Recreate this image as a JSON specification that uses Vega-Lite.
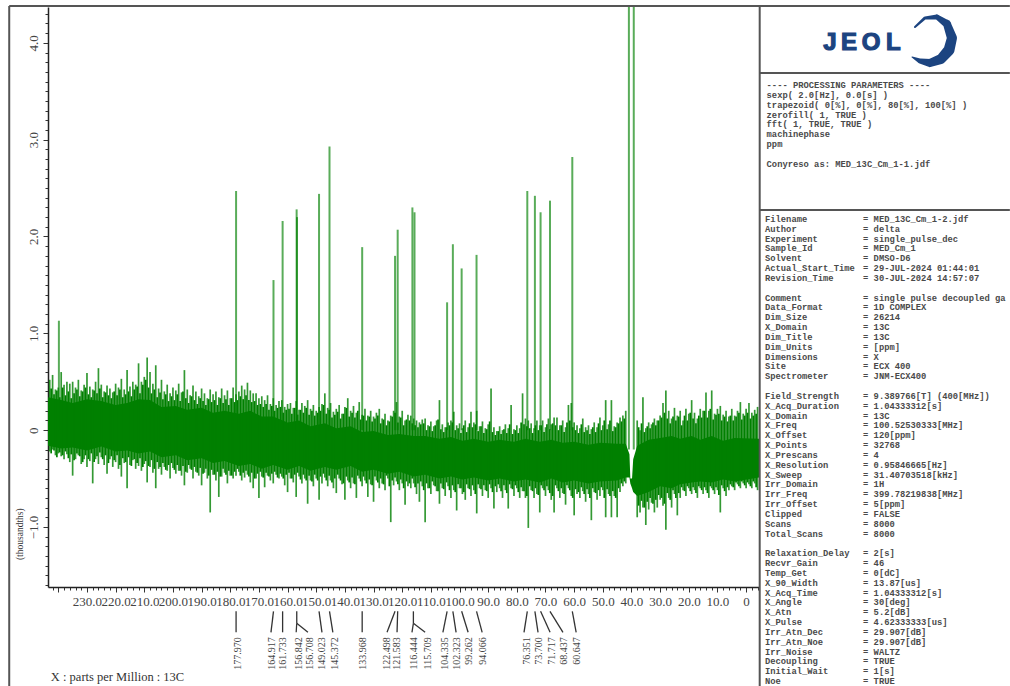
{
"$schema":"https://vega.github.io/schema/vega-lite/v6.json",
"autosize":{"type":"none"},
"padding":{"left":48,"top":7,"right":251,"bottom":99},
"width":711,"height":580,
"background":"white",
"config":{"view":{"stroke":null}},
"datasets":{
"core":[{"p":243.6,"t":0.34,"b":-0.16},{"p":239,"t":0.31,"b":-0.19},{"p":235,"t":0.28,"b":-0.18},{"p":230,"t":0.32,"b":-0.21},{"p":225,"t":0.3,"b":-0.17},{"p":220,"t":0.26,"b":-0.22},{"p":216,"t":0.28,"b":-0.21},{"p":212,"t":0.32,"b":-0.24},{"p":208,"t":0.31,"b":-0.22},{"p":204,"t":0.24,"b":-0.28},{"p":199,"t":0.25,"b":-0.26},{"p":195,"t":0.21,"b":-0.31},{"p":190,"t":0.23,"b":-0.29},{"p":186,"t":0.18,"b":-0.34},{"p":182,"t":0.2,"b":-0.32},{"p":177,"t":0.17,"b":-0.37},{"p":173,"t":0.2,"b":-0.35},{"p":169,"t":0.14,"b":-0.4},{"p":165,"t":0.14,"b":-0.36},{"p":160,"t":0.08,"b":-0.41},{"p":156,"t":0.1,"b":-0.37},{"p":152,"t":0.04,"b":-0.42},{"p":147,"t":0.07,"b":-0.38},{"p":143,"t":0.02,"b":-0.41},{"p":138,"t":0.04,"b":-0.37},{"p":134,"t":-0.02,"b":-0.43},{"p":130,"t":-0.01,"b":-0.41},{"p":125,"t":-0.05,"b":-0.45},{"p":121,"t":-0.04,"b":-0.43},{"p":116,"t":-0.06,"b":-0.48},{"p":112,"t":-0.06,"b":-0.46},{"p":107,"t":-0.09,"b":-0.5},{"p":103,"t":-0.07,"b":-0.48},{"p":99,"t":-0.11,"b":-0.51},{"p":95,"t":-0.09,"b":-0.49},{"p":90,"t":-0.12,"b":-0.52},{"p":86,"t":-0.1,"b":-0.5},{"p":81,"t":-0.12,"b":-0.53},{"p":77,"t":-0.09,"b":-0.51},{"p":72,"t":-0.12,"b":-0.54},{"p":68,"t":-0.1,"b":-0.5},{"p":64,"t":-0.13,"b":-0.54},{"p":60,"t":-0.12,"b":-0.52},{"p":55,"t":-0.15,"b":-0.55},{"p":51,"t":-0.13,"b":-0.53},{"p":45,"t":-0.14,"b":-0.52},{"p":42,"t":-0.14,"b":-0.49},{"p":40.7,"t":-0.25,"b":-0.49},{"p":40.4,"t":-0.5,"b":-0.55},{"p":39.8,"t":-0.5,"b":-0.6},{"p":39.4,"t":-0.3,"b":-0.64},{"p":38,"t":-0.16,"b":-0.68},{"p":34,"t":-0.1,"b":-0.64},{"p":30,"t":-0.08,"b":-0.58},{"p":26,"t":-0.06,"b":-0.6},{"p":23,"t":-0.09,"b":-0.56},{"p":19,"t":-0.06,"b":-0.54},{"p":16,"t":-0.1,"b":-0.53},{"p":12,"t":-0.06,"b":-0.54},{"p":8,"t":-0.11,"b":-0.51},{"p":4,"t":-0.08,"b":-0.53},{"p":-4.5,"t":-0.09,"b":-0.49}],
"env2":[{"p":242.5,"h":0.43,"l":-0.24},{"p":241.5,"h":0.37,"l":-0.21},{"p":240.5,"h":0.41,"l":-0.28},{"p":239.5,"h":0.34,"l":-0.23},{"p":238.5,"h":0.44,"l":-0.26},{"p":237.5,"h":0.36,"l":-0.22},{"p":236.5,"h":0.4,"l":-0.29},{"p":235.5,"h":0.33,"l":-0.25},{"p":234.5,"h":0.38,"l":-0.31},{"p":233.5,"h":0.42,"l":-0.24},{"p":232.5,"h":0.35,"l":-0.27},{"p":231.5,"h":0.4,"l":-0.33},{"p":230.5,"h":0.44,"l":-0.26},{"p":229.5,"h":0.37,"l":-0.3},{"p":228.5,"h":0.34,"l":-0.24},{"p":227.5,"h":0.41,"l":-0.33},{"p":226.5,"h":0.38,"l":-0.27},{"p":225.5,"h":0.43,"l":-0.23},{"p":224.5,"h":0.34,"l":-0.3},{"p":223.5,"h":0.39,"l":-0.26},{"p":222.5,"h":0.36,"l":-0.34},{"p":221.5,"h":0.33,"l":-0.27},{"p":220.5,"h":0.4,"l":-0.31},{"p":219.5,"h":0.36,"l":-0.26},{"p":218.5,"h":0.42,"l":-0.36},{"p":217.5,"h":0.34,"l":-0.29},{"p":216.5,"h":0.37,"l":-0.33},{"p":215.5,"h":0.4,"l":-0.28},{"p":214.5,"h":0.35,"l":-0.37},{"p":213.5,"h":0.42,"l":-0.3},{"p":212.5,"h":0.45,"l":-0.34},{"p":211.5,"h":0.38,"l":-0.29},{"p":210.5,"h":0.47,"l":-0.38},{"p":209.5,"h":0.52,"l":-0.32},{"p":208.5,"h":0.44,"l":-0.37},{"p":207.5,"h":0.38,"l":-0.31},{"p":206.5,"h":0.42,"l":-0.4},{"p":205.5,"h":0.34,"l":-0.33},{"p":204.5,"h":0.39,"l":-0.38},{"p":203.5,"h":0.32,"l":-0.34},{"p":202.5,"h":0.37,"l":-0.41},{"p":201.5,"h":0.3,"l":-0.36},{"p":200.5,"h":0.35,"l":-0.34},{"p":199.5,"h":0.31,"l":-0.41},{"p":198.5,"h":0.37,"l":-0.36},{"p":197.5,"h":0.3,"l":-0.42},{"p":196.5,"h":0.4,"l":-0.37},{"p":195.5,"h":0.33,"l":-0.43},{"p":194.5,"h":0.28,"l":-0.36},{"p":193.5,"h":0.35,"l":-0.41},{"p":192.5,"h":0.31,"l":-0.38},{"p":191.5,"h":0.27,"l":-0.44},{"p":190.5,"h":0.33,"l":-0.39},{"p":189.5,"h":0.3,"l":-0.45},{"p":188.5,"h":0.26,"l":-0.4},{"p":187.5,"h":0.32,"l":-0.47},{"p":186.5,"h":0.29,"l":-0.41},{"p":185.5,"h":0.31,"l":-0.46},{"p":184.5,"h":0.26,"l":-0.43},{"p":183.5,"h":0.33,"l":-0.48},{"p":182.5,"h":0.28,"l":-0.4},{"p":181.5,"h":0.32,"l":-0.46},{"p":180.5,"h":0.26,"l":-0.42},{"p":179.5,"h":0.33,"l":-0.47},{"p":178.5,"h":0.29,"l":-0.43},{"p":177.5,"h":0.31,"l":-0.4},{"p":176.5,"h":0.35,"l":-0.47},{"p":175.5,"h":0.32,"l":-0.44},{"p":174.5,"h":0.36,"l":-0.42},{"p":173.5,"h":0.31,"l":-0.48},{"p":172.5,"h":0.29,"l":-0.44},{"p":171.5,"h":0.3,"l":-0.5},{"p":170.5,"h":0.26,"l":-0.45},{"p":169.5,"h":0.27,"l":-0.43},{"p":168.5,"h":0.24,"l":-0.49},{"p":167.5,"h":0.27,"l":-0.44},{"p":166.5,"h":0.21,"l":-0.48},{"p":165.5,"h":0.25,"l":-0.45},{"p":164.5,"h":0.2,"l":-0.43},{"p":163.5,"h":0.23,"l":-0.49},{"p":162.5,"h":0.24,"l":-0.45},{"p":161.5,"h":0.18,"l":-0.5},{"p":160.5,"h":0.21,"l":-0.46},{"p":159.5,"h":0.22,"l":-0.44},{"p":158.5,"h":0.17,"l":-0.5},{"p":157.5,"h":0.23,"l":-0.46},{"p":156.5,"h":0.16,"l":-0.44},{"p":155.5,"h":0.21,"l":-0.51},{"p":154.5,"h":0.18,"l":-0.46},{"p":153.5,"h":0.23,"l":-0.52},{"p":152.5,"h":0.16,"l":-0.47},{"p":151.5,"h":0.2,"l":-0.53},{"p":150.5,"h":0.15,"l":-0.46},{"p":149.5,"h":0.18,"l":-0.52},{"p":148.5,"h":0.2,"l":-0.48},{"p":147.5,"h":0.26,"l":-0.45},{"p":146.5,"h":0.17,"l":-0.52},{"p":145.5,"h":0.21,"l":-0.47},{"p":144.5,"h":0.13,"l":-0.54},{"p":143.5,"h":0.16,"l":-0.5},{"p":142.5,"h":0.19,"l":-0.46},{"p":141.5,"h":0.12,"l":-0.52},{"p":140.5,"h":0.17,"l":-0.55},{"p":139.5,"h":0.23,"l":-0.48},{"p":138.5,"h":0.14,"l":-0.54},{"p":137.5,"h":0.18,"l":-0.49},{"p":136.5,"h":0.13,"l":-0.56},{"p":135.5,"h":0.2,"l":-0.47},{"p":134.5,"h":0.11,"l":-0.53},{"p":133.5,"h":0.15,"l":-0.48},{"p":132.5,"h":0.1,"l":-0.55},{"p":131.5,"h":0.14,"l":-0.51},{"p":130.5,"h":0.09,"l":-0.57},{"p":129.5,"h":0.12,"l":-0.48},{"p":128.5,"h":0.15,"l":-0.54},{"p":127.5,"h":0.07,"l":-0.5},{"p":126.5,"h":0.11,"l":-0.56},{"p":125.5,"h":0.05,"l":-0.47},{"p":124.5,"h":0.09,"l":-0.58},{"p":123.5,"h":0.14,"l":-0.52},{"p":122.5,"h":0.18,"l":-0.49},{"p":121.5,"h":0.08,"l":-0.56},{"p":120.5,"h":0.13,"l":-0.51},{"p":119.5,"h":0.05,"l":-0.6},{"p":118.5,"h":0.11,"l":-0.53},{"p":117.5,"h":0.1,"l":-0.55},{"p":116.5,"h":0.07,"l":-0.5},{"p":115.5,"h":0.05,"l":-0.59},{"p":114.5,"h":0.03,"l":-0.55},{"p":113.5,"h":0.06,"l":-0.53},{"p":112.5,"h":0.07,"l":-0.62},{"p":111.5,"h":0,"l":-0.55},{"p":110.5,"h":0.04,"l":-0.6},{"p":109.5,"h":-0.01,"l":-0.53},{"p":108.5,"h":0.05,"l":-0.58},{"p":107.5,"h":0.11,"l":-0.63},{"p":106.5,"h":0.01,"l":-0.55},{"p":105.5,"h":-0.02,"l":-0.61},{"p":104.5,"h":0.03,"l":-0.54},{"p":103.5,"h":0.05,"l":-0.62},{"p":102.5,"h":0.08,"l":-0.57},{"p":101.5,"h":0,"l":-0.64},{"p":100.5,"h":0.02,"l":-0.56},{"p":99.5,"h":-0.03,"l":-0.6},{"p":98.5,"h":0.05,"l":-0.64},{"p":97.5,"h":-0.02,"l":-0.56},{"p":96.5,"h":0.07,"l":-0.61},{"p":95.5,"h":0.03,"l":-0.57},{"p":94.5,"h":0.06,"l":-0.66},{"p":93.5,"h":-0.01,"l":-0.56},{"p":92.5,"h":0.04,"l":-0.61},{"p":91.5,"h":-0.03,"l":-0.57},{"p":90.5,"h":0.01,"l":-0.63},{"p":89.5,"h":0.09,"l":-0.56},{"p":88.5,"h":-0.02,"l":-0.64},{"p":87.5,"h":-0.05,"l":-0.58},{"p":86.5,"h":-0.01,"l":-0.56},{"p":85.5,"h":-0.04,"l":-0.63},{"p":84.5,"h":0.01,"l":-0.57},{"p":83.5,"h":-0.03,"l":-0.65},{"p":82.5,"h":0.06,"l":-0.56},{"p":81.5,"h":-0.04,"l":-0.61},{"p":80.5,"h":0,"l":-0.57},{"p":79.5,"h":-0.03,"l":-0.64},{"p":78.5,"h":0.08,"l":-0.59},{"p":77.5,"h":0.06,"l":-0.63},{"p":76.5,"h":0.04,"l":-0.68},{"p":75.5,"h":0.02,"l":-0.58},{"p":74.5,"h":-0.03,"l":-0.63},{"p":73.5,"h":0.05,"l":-0.6},{"p":72.5,"h":0,"l":-0.67},{"p":71.5,"h":0.05,"l":-0.57},{"p":70.5,"h":-0.02,"l":-0.62},{"p":69.5,"h":0.06,"l":-0.58},{"p":68.5,"h":0.01,"l":-0.65},{"p":67.5,"h":0.07,"l":-0.68},{"p":66.5,"h":0.05,"l":-0.57},{"p":65.5,"h":0,"l":-0.63},{"p":64.5,"h":0.05,"l":-0.6},{"p":63.5,"h":-0.02,"l":-0.66},{"p":62.5,"h":0.08,"l":-0.57},{"p":61.5,"h":0.1,"l":-0.62},{"p":60.5,"h":0.03,"l":-0.7},{"p":59.5,"h":0,"l":-0.61},{"p":58.5,"h":-0.03,"l":-0.64},{"p":57.5,"h":0.06,"l":-0.59},{"p":56.5,"h":-0.02,"l":-0.66},{"p":55.5,"h":0,"l":-0.61},{"p":54.5,"h":-0.04,"l":-0.7},{"p":53.5,"h":0.03,"l":-0.6},{"p":52.5,"h":-0.02,"l":-0.65},{"p":51.5,"h":0.07,"l":-0.62},{"p":50.5,"h":0,"l":-0.59},{"p":49.5,"h":0.1,"l":-0.7},{"p":48.5,"h":0.01,"l":-0.61},{"p":47.5,"h":0.1,"l":-0.68},{"p":46.5,"h":-0.01,"l":-0.63},{"p":45.5,"h":0.03,"l":-0.7},{"p":44.5,"h":0.07,"l":-0.6},{"p":43.5,"h":0.09,"l":-0.55},{"p":42.5,"h":0.12,"l":-0.53},{"p":37.5,"h":0.03,"l":-0.78},{"p":36.5,"h":0.07,"l":-0.73},{"p":35.5,"h":-0.02,"l":-0.8},{"p":34.5,"h":0.04,"l":-0.74},{"p":33.5,"h":0.02,"l":-0.7},{"p":32.5,"h":0.08,"l":-0.76},{"p":31.5,"h":0.05,"l":-0.72},{"p":30.5,"h":0.1,"l":-0.67},{"p":29.5,"h":0.13,"l":-0.7},{"p":28.5,"h":0.18,"l":-0.76},{"p":27.5,"h":0.12,"l":-0.65},{"p":26.5,"h":0.07,"l":-0.72},{"p":25.5,"h":0.14,"l":-0.62},{"p":24.5,"h":0.1,"l":-0.7},{"p":23.5,"h":0.14,"l":-0.65},{"p":22.5,"h":0.05,"l":-0.59},{"p":21.5,"h":0.15,"l":-0.63},{"p":20.5,"h":0.1,"l":-0.58},{"p":19.5,"h":0.18,"l":-0.63},{"p":18.5,"h":0.12,"l":-0.59},{"p":17.5,"h":0.07,"l":-0.65},{"p":16.5,"h":0.15,"l":-0.58},{"p":15.5,"h":0.13,"l":-0.62},{"p":14.5,"h":0.2,"l":-0.59},{"p":13.5,"h":0.13,"l":-0.65},{"p":12.5,"h":0.22,"l":-0.58},{"p":11.5,"h":0.11,"l":-0.62},{"p":10.5,"h":0.16,"l":-0.59},{"p":9.5,"h":0.17,"l":-0.67},{"p":8.5,"h":0.1,"l":-0.57},{"p":7.5,"h":0.14,"l":-0.63},{"p":6.5,"h":0.09,"l":-0.59},{"p":5.5,"h":0.15,"l":-0.56},{"p":4.5,"h":0.1,"l":-0.59},{"p":3.5,"h":0.14,"l":-0.54},{"p":2.5,"h":0.18,"l":-0.58},{"p":1.5,"h":0.11,"l":-0.53},{"p":0.5,"h":0.15,"l":-0.57},{"p":-0.5,"h":0.18,"l":-0.54},{"p":-1.5,"h":0.12,"l":-0.58},{"p":-2.5,"h":0.15,"l":-0.53},{"p":-3.5,"h":0.17,"l":-0.59}],
"env":[{"p":243,"h":0.52,"l":-0.22},{"p":242,"h":0.57,"l":-0.2},{"p":241,"h":0.42,"l":-0.26},{"p":240,"h":0.44,"l":-0.24},{"p":239,"h":0.6,"l":-0.27},{"p":238,"h":0.47,"l":-0.3},{"p":237,"h":0.5,"l":-0.25},{"p":236,"h":0.48,"l":-0.33},{"p":235,"h":0.5,"l":-0.47},{"p":234,"h":0.44,"l":-0.3},{"p":233,"h":0.52,"l":-0.26},{"p":232,"h":0.41,"l":-0.35},{"p":231,"h":0.47,"l":-0.3},{"p":230,"h":0.59,"l":-0.38},{"p":229,"h":0.45,"l":-0.32},{"p":228,"h":0.42,"l":-0.55},{"p":227,"h":0.5,"l":-0.3},{"p":226,"h":0.64,"l":-0.35},{"p":225,"h":0.47,"l":-0.28},{"p":224,"h":0.4,"l":-0.36},{"p":223,"h":0.46,"l":-0.45},{"p":222,"h":0.43,"l":-0.3},{"p":221,"h":0.39,"l":-0.38},{"p":220,"h":0.48,"l":-0.33},{"p":219,"h":0.44,"l":-0.4},{"p":218,"h":0.53,"l":-0.48},{"p":217,"h":0.42,"l":-0.34},{"p":216,"h":0.62,"l":-0.6},{"p":215,"h":0.45,"l":-0.36},{"p":214,"h":0.5,"l":-0.31},{"p":213,"h":0.47,"l":-0.4},{"p":212,"h":0.69,"l":-0.37},{"p":211,"h":0.5,"l":-0.42},{"p":210,"h":0.55,"l":-0.35},{"p":209,"h":0.75,"l":-0.54},{"p":208,"h":0.6,"l":-0.38},{"p":207,"h":0.48,"l":-0.44},{"p":206,"h":0.67,"l":-0.6},{"p":205,"h":0.43,"l":-0.4},{"p":204,"h":0.52,"l":-0.46},{"p":203,"h":0.4,"l":-0.38},{"p":202,"h":0.47,"l":-0.42},{"p":201,"h":0.38,"l":-0.5},{"p":200,"h":0.44,"l":-0.39},{"p":199,"h":0.41,"l":-0.45},{"p":198,"h":0.48,"l":-0.42},{"p":197,"h":0.39,"l":-0.47},{"p":196,"h":0.62,"l":-0.57},{"p":195,"h":0.42,"l":-0.44},{"p":194,"h":0.36,"l":-0.4},{"p":193,"h":0.46,"l":-0.5},{"p":192,"h":0.4,"l":-0.43},{"p":191,"h":0.35,"l":-0.47},{"p":190,"h":0.43,"l":-0.57},{"p":189,"h":0.38,"l":-0.44},{"p":188,"h":0.33,"l":-0.5},{"p":187,"h":0.42,"l":-0.85},{"p":186,"h":0.37,"l":-0.46},{"p":185,"h":0.4,"l":-0.52},{"p":184,"h":0.34,"l":-0.69},{"p":183,"h":0.43,"l":-0.48},{"p":182,"h":0.36,"l":-0.44},{"p":181,"h":0.41,"l":-0.55},{"p":180,"h":0.33,"l":-0.47},{"p":179,"h":0.44,"l":-0.5},{"p":178,"h":0.37,"l":-0.47},{"p":177,"h":0.4,"l":-0.43},{"p":176,"h":0.46,"l":-0.52},{"p":175,"h":0.42,"l":-0.49},{"p":174,"h":0.49,"l":-0.46},{"p":173,"h":0.41,"l":-0.54},{"p":172,"h":0.38,"l":-0.6},{"p":171,"h":0.38,"l":-0.5},{"p":170,"h":0.33,"l":-0.7},{"p":169,"h":0.35,"l":-0.48},{"p":168,"h":0.31,"l":-0.59},{"p":167,"h":0.36,"l":-0.47},{"p":166,"h":0.27,"l":-0.52},{"p":165,"h":0.33,"l":-0.55},{"p":164,"h":0.26,"l":-0.46},{"p":163,"h":0.3,"l":-0.5},{"p":162,"h":0.31,"l":-0.48},{"p":161,"h":0.24,"l":-0.57},{"p":160,"h":0.27,"l":-0.64},{"p":159,"h":0.28,"l":-0.5},{"p":158,"h":0.23,"l":-0.54},{"p":157,"h":0.3,"l":-0.69},{"p":156,"h":0.21,"l":-0.48},{"p":155,"h":0.28,"l":-0.55},{"p":154,"h":0.25,"l":-0.5},{"p":153,"h":0.31,"l":-0.76},{"p":152,"h":0.22,"l":-0.52},{"p":151,"h":0.26,"l":-0.58},{"p":150,"h":0.2,"l":-0.5},{"p":149,"h":0.24,"l":-0.72},{"p":148,"h":0.27,"l":-0.55},{"p":147,"h":0.38,"l":-0.49},{"p":146,"h":0.23,"l":-0.58},{"p":145,"h":0.28,"l":-0.52},{"p":144,"h":0.19,"l":-0.6},{"p":143,"h":0.22,"l":-0.65},{"p":142,"h":0.26,"l":-0.5},{"p":141,"h":0.17,"l":-0.56},{"p":140,"h":0.24,"l":-0.72},{"p":139,"h":0.33,"l":-0.52},{"p":138,"h":0.2,"l":-0.6},{"p":137,"h":0.25,"l":-0.55},{"p":136,"h":0.18,"l":-0.7},{"p":135,"h":0.29,"l":-0.5},{"p":134,"h":0.16,"l":-0.58},{"p":133,"h":0.22,"l":-0.52},{"p":132,"h":0.15,"l":-0.69},{"p":131,"h":0.2,"l":-0.56},{"p":130,"h":0.14,"l":-0.74},{"p":129,"h":0.18,"l":-0.52},{"p":128,"h":0.22,"l":-0.6},{"p":127,"h":0.12,"l":-0.55},{"p":126,"h":0.17,"l":-0.62},{"p":125,"h":0.1,"l":-0.5},{"p":124,"h":0.15,"l":-0.95},{"p":123,"h":0.2,"l":-0.57},{"p":122,"h":0.29,"l":-0.53},{"p":121,"h":0.14,"l":-0.62},{"p":120,"h":0.2,"l":-0.55},{"p":119,"h":0.1,"l":-0.77},{"p":118,"h":0.16,"l":-0.58},{"p":117,"h":0.15,"l":-0.6},{"p":116,"h":0.12,"l":-0.55},{"p":115,"h":0.1,"l":-0.66},{"p":114,"h":0.08,"l":-0.74},{"p":113,"h":0.11,"l":-0.58},{"p":112,"h":0.12,"l":-0.95},{"p":111,"h":0.05,"l":-0.6},{"p":110,"h":0.09,"l":-0.66},{"p":109,"h":0.04,"l":-0.57},{"p":108,"h":0.1,"l":-0.63},{"p":107,"h":0.31,"l":-0.76},{"p":106,"h":0.06,"l":-0.6},{"p":105,"h":0.03,"l":-0.68},{"p":104,"h":0.08,"l":-0.58},{"p":103,"h":0.1,"l":-0.7},{"p":102,"h":0.19,"l":-0.62},{"p":101,"h":0.05,"l":-0.83},{"p":100,"h":0.07,"l":-0.6},{"p":99,"h":0.02,"l":-0.66},{"p":98,"h":0.1,"l":-0.72},{"p":97,"h":0.03,"l":-0.6},{"p":96,"h":0.19,"l":-0.68},{"p":95,"h":0.08,"l":-0.62},{"p":94,"h":0.2,"l":-0.86},{"p":93,"h":0.04,"l":-0.6},{"p":92,"h":0.09,"l":-0.68},{"p":91,"h":0.02,"l":-0.62},{"p":90,"h":0.06,"l":-0.7},{"p":89,"h":0.43,"l":-0.6},{"p":88,"h":0.03,"l":-0.81},{"p":87,"h":-0.01,"l":-0.64},{"p":86,"h":0.04,"l":-0.6},{"p":85,"h":0,"l":-0.7},{"p":84,"h":0.06,"l":-0.62},{"p":83,"h":0.02,"l":-0.81},{"p":82,"h":0.26,"l":-0.6},{"p":81,"h":0.01,"l":-0.68},{"p":80,"h":0.05,"l":-0.6},{"p":79,"h":0.02,"l":-0.7},{"p":78,"h":0.38,"l":-0.63},{"p":77,"h":0.12,"l":-0.7},{"p":76,"h":0.1,"l":-1.01},{"p":75,"h":0.07,"l":-0.62},{"p":74,"h":0.02,"l":-0.7},{"p":73,"h":0.1,"l":-0.66},{"p":72,"h":0.05,"l":-0.85},{"p":71,"h":0.1,"l":-0.6},{"p":70,"h":0.03,"l":-0.68},{"p":69,"h":0.12,"l":-0.62},{"p":68,"h":0.06,"l":-0.72},{"p":67,"h":0.13,"l":-0.85},{"p":66,"h":0.13,"l":-0.6},{"p":65,"h":0.05,"l":-0.7},{"p":64,"h":0.1,"l":-0.65},{"p":63,"h":0.03,"l":-0.77},{"p":62,"h":0.26,"l":-0.6},{"p":61,"h":0.28,"l":-0.68},{"p":60,"h":0.08,"l":-0.88},{"p":59,"h":0.05,"l":-0.66},{"p":58,"h":0.02,"l":-0.7},{"p":57,"h":0.12,"l":-0.63},{"p":56,"h":0.03,"l":-0.74},{"p":55,"h":0.05,"l":-0.66},{"p":54,"h":0.01,"l":-0.93},{"p":53,"h":0.08,"l":-0.64},{"p":52,"h":0.03,"l":-0.72},{"p":51,"h":0.13,"l":-0.68},{"p":50,"h":0.05,"l":-0.62},{"p":49,"h":0.31,"l":-0.9},{"p":48,"h":0.06,"l":-0.66},{"p":47,"h":0.31,"l":-0.9},{"p":46,"h":0.04,"l":-0.68},{"p":45,"h":0.08,"l":-0.9},{"p":44,"h":0.13,"l":-0.64},{"p":43,"h":0.15,"l":-0.58},{"p":42,"h":0.2,"l":-0.55},{"p":38,"h":0.1,"l":-0.9},{"p":37,"h":0,"l":-0.85},{"p":36,"h":0.34,"l":-0.8},{"p":35,"h":0.02,"l":-0.98},{"p":34,"h":0.08,"l":-0.82},{"p":33,"h":0.06,"l":-0.75},{"p":32,"h":0.12,"l":-0.85},{"p":31,"h":0.1,"l":-0.8},{"p":30,"h":0.15,"l":-0.72},{"p":29,"h":0.28,"l":-0.78},{"p":28,"h":0.41,"l":-1.03},{"p":27,"h":0.2,"l":-0.7},{"p":26,"h":0.12,"l":-0.8},{"p":25,"h":0.23,"l":-0.66},{"p":24,"h":0.15,"l":-0.88},{"p":23,"h":0.2,"l":-0.7},{"p":22,"h":0.1,"l":-0.62},{"p":21,"h":0.22,"l":-0.68},{"p":20,"h":0.17,"l":-0.6},{"p":19,"h":0.31,"l":-0.66},{"p":18,"h":0.18,"l":-0.62},{"p":17,"h":0.12,"l":-0.7},{"p":16,"h":0.22,"l":-0.6},{"p":15,"h":0.2,"l":-0.66},{"p":14,"h":0.39,"l":-0.62},{"p":13,"h":0.2,"l":-0.7},{"p":12,"h":0.41,"l":-0.6},{"p":11,"h":0.17,"l":-0.66},{"p":10,"h":0.22,"l":-0.62},{"p":9,"h":0.25,"l":-0.85},{"p":8,"h":0.16,"l":-0.6},{"p":7,"h":0.2,"l":-0.68},{"p":6,"h":0.14,"l":-0.62},{"p":5,"h":0.22,"l":-0.58},{"p":4,"h":0.15,"l":-0.62},{"p":3,"h":0.2,"l":-0.56},{"p":2,"h":0.29,"l":-0.6},{"p":1,"h":0.17,"l":-0.55},{"p":0,"h":0.22,"l":-0.6},{"p":-1,"h":0.28,"l":-0.56},{"p":-2,"h":0.18,"l":-0.6},{"p":-3,"h":0.21,"l":-0.55},{"p":-4,"h":0.24,"l":-0.62}],
"peaks":[{"p":239.8,"h":1.13,"b":0},{"p":177.97,"h":2.47,"b":0},{"p":164.917,"h":1.55,"b":0},{"p":161.733,"h":2.16,"b":0},{"p":156.842,"h":2.28,"b":0},{"p":156.708,"h":2.2,"b":0},{"p":149.023,"h":2.44,"b":0},{"p":145.372,"h":2.93,"b":0},{"p":133.968,"h":1.89,"b":0},{"p":122.498,"h":1.8,"b":0},{"p":121.583,"h":2.07,"b":0},{"p":116.444,"h":2.3,"b":0},{"p":115.709,"h":2.25,"b":0},{"p":104.335,"h":1.32,"b":0},{"p":102.323,"h":1.92,"b":0},{"p":99.262,"h":1.67,"b":0},{"p":94.066,"h":1.81,"b":0},{"p":76.351,"h":2.47,"b":0},{"p":73.7,"h":2.42,"b":0},{"p":71.717,"h":2.25,"b":0},{"p":68.437,"h":2.37,"b":0},{"p":60.647,"h":2.82,"b":0},{"p":40.9,"h":4.37,"b":-0.2},{"p":39.2,"h":4.37,"b":-0.2}],
"leaders":[{"p":177.97,"q":177.97,"a":-1.871,"b":-2.088},{"p":164.917,"q":165.8,"a":-1.871,"b":-2.088},{"p":161.733,"q":161.733,"a":-1.871,"b":-2.088},{"p":156.8,"q":156.8,"a":-1.871,"b":-1.995},{"p":156.8,"q":157,"a":-1.995,"b":-2.088},{"p":156.8,"q":152.9,"a":-1.995,"b":-2.088},{"p":149.023,"q":148,"a":-1.871,"b":-2.088},{"p":145.372,"q":144.2,"a":-1.871,"b":-2.088},{"p":133.968,"q":133.968,"a":-1.871,"b":-2.088},{"p":122.498,"q":125.3,"a":-1.871,"b":-2.088},{"p":121.583,"q":121.8,"a":-1.871,"b":-2.088},{"p":116.1,"q":116.1,"a":-1.871,"b":-1.995},{"p":116.1,"q":116.6,"a":-1.995,"b":-2.088},{"p":116.1,"q":112,"a":-1.995,"b":-2.088},{"p":104.335,"q":105.8,"a":-1.871,"b":-2.088},{"p":102.323,"q":101.2,"a":-1.871,"b":-2.088},{"p":99.262,"q":97,"a":-1.871,"b":-2.088},{"p":94.066,"q":92.1,"a":-1.871,"b":-2.088},{"p":76.351,"q":77.5,"a":-1.871,"b":-2.088},{"p":73.7,"q":72.6,"a":-1.871,"b":-2.088},{"p":71.717,"q":68.4,"a":-1.871,"b":-2.088},{"p":68.437,"q":63.9,"a":-1.871,"b":-2.088},{"p":60.647,"q":59.3,"a":-1.871,"b":-2.088}],
"labels":[{"p":177.3,"t":"177.970"},{"p":165.4,"t":"164.917"},{"p":161.6,"t":"161.733"},{"p":156,"t":"156.842"},{"p":152.2,"t":"156.708"},{"p":148,"t":"149.023"},{"p":143.5,"t":"145.372"},{"p":133.7,"t":"133.968"},{"p":125.3,"t":"122.498"},{"p":121.8,"t":"121.583"},{"p":115.9,"t":"116.444"},{"p":111,"t":"115.709"},{"p":105.1,"t":"104.335"},{"p":100.9,"t":"102.323"},{"p":96.7,"t":"99.262"},{"p":91.8,"t":"94.066"},{"p":76.4,"t":"76.351"},{"p":72.3,"t":"73.700"},{"p":67.7,"t":"71.717"},{"p":63.5,"t":"68.437"},{"p":59,"t":"60.647"}],
"frame":[{"c":-142.6,"c2":-142.6,"l":-21.67,"l2":47.5},{"c":-142.6,"c2":46.2,"l":-21.67,"l2":-21.67},{"c":-1,"c2":-1,"l":-21.67,"l2":47.5},{"c":-1,"c2":46.2,"l":-14.85,"l2":-14.85},{"c":-1,"c2":46.2,"l":-0.92,"l2":-0.92}],
"swirl":[{"i":0,"c":28.3,"l":-19.53,"w":2},{"i":1,"c":30.19,"l":-20.45,"w":3},{"i":2,"c":32.45,"l":-20.55,"w":5},{"i":3,"c":34.34,"l":-19.84,"w":8},{"i":4,"c":35.28,"l":-18.41,"w":10},{"i":5,"c":34.72,"l":-17.19,"w":11},{"i":6,"c":33.21,"l":-16.28,"w":10},{"i":7,"c":31.13,"l":-15.87,"w":8},{"i":8,"c":29.25,"l":-16.07,"w":5},{"i":9,"c":27.74,"l":-16.48,"w":1}],
"logo":[{"c":12.26,"l":-17.2,"t":"J"},{"c":15.85,"l":-17.2,"t":"E"},{"c":20,"l":-17.2,"t":"O"},{"c":24.2,"l":-17.2,"t":"L"}],
"panel":[{"c":0.3,"l":-13.63,"t":"---- PROCESSING PARAMETERS ----"},{"c":0.3,"l":-12.63,"t":"sexp( 2.0[Hz], 0.0[s] )"},{"c":0.3,"l":-11.63,"t":"trapezoid( 0[%], 0[%], 80[%], 100[%] )"},{"c":0.3,"l":-10.63,"t":"zerofill( 1, TRUE )"},{"c":0.3,"l":-9.63,"t":"fft( 1, TRUE, TRUE )"},{"c":0.3,"l":-8.63,"t":"machinephase"},{"c":0.3,"l":-7.63,"t":"ppm"},{"c":0.3,"l":-5.63,"t":"Conyreso as: MED_13C_Cm_1-1.jdf"},
{"c":0,"l":0,"t":"Filename"},{"c":18.5,"l":0,"t":"= MED_13C_Cm_1-2.jdf"},{"c":0,"l":1,"t":"Author"},{"c":18.5,"l":1,"t":"= delta"},{"c":0,"l":2,"t":"Experiment"},{"c":18.5,"l":2,"t":"= single_pulse_dec"},{"c":0,"l":3,"t":"Sample_Id"},{"c":18.5,"l":3,"t":"= MED_Cm_1"},{"c":0,"l":4,"t":"Solvent"},{"c":18.5,"l":4,"t":"= DMSO-D6"},{"c":0,"l":5,"t":"Actual_Start_Time"},{"c":18.5,"l":5,"t":"= 29-JUL-2024 01:44:01"},{"c":0,"l":6,"t":"Revision_Time"},{"c":18.5,"l":6,"t":"= 30-JUL-2024 14:57:07"},{"c":0,"l":8,"t":"Comment"},{"c":18.5,"l":8,"t":"= single pulse decoupled ga"},{"c":0,"l":9,"t":"Data_Format"},{"c":18.5,"l":9,"t":"= 1D COMPLEX"},{"c":0,"l":10,"t":"Dim_Size"},{"c":18.5,"l":10,"t":"= 26214"},{"c":0,"l":11,"t":"X_Domain"},{"c":18.5,"l":11,"t":"= 13C"},{"c":0,"l":12,"t":"Dim_Title"},{"c":18.5,"l":12,"t":"= 13C"},{"c":0,"l":13,"t":"Dim_Units"},{"c":18.5,"l":13,"t":"= [ppm]"},{"c":0,"l":14,"t":"Dimensions"},{"c":18.5,"l":14,"t":"= X"},{"c":0,"l":15,"t":"Site"},{"c":18.5,"l":15,"t":"= ECX 400"},{"c":0,"l":16,"t":"Spectrometer"},{"c":18.5,"l":16,"t":"= JNM-ECX400"},
{"c":0,"l":18,"t":"Field_Strength"},{"c":18.5,"l":18,"t":"= 9.389766[T] (400[MHz])"},{"c":0,"l":19,"t":"X_Acq_Duration"},{"c":18.5,"l":19,"t":"= 1.04333312[s]"},{"c":0,"l":20,"t":"X_Domain"},{"c":18.5,"l":20,"t":"= 13C"},{"c":0,"l":21,"t":"X_Freq"},{"c":18.5,"l":21,"t":"= 100.52530333[MHz]"},{"c":0,"l":22,"t":"X_Offset"},{"c":18.5,"l":22,"t":"= 120[ppm]"},{"c":0,"l":23,"t":"X_Points"},{"c":18.5,"l":23,"t":"= 32768"},{"c":0,"l":24,"t":"X_Prescans"},{"c":18.5,"l":24,"t":"= 4"},{"c":0,"l":25,"t":"X_Resolution"},{"c":18.5,"l":25,"t":"= 0.95846665[Hz]"},{"c":0,"l":26,"t":"X_Sweep"},{"c":18.5,"l":26,"t":"= 31.40703518[kHz]"},{"c":0,"l":27,"t":"Irr_Domain"},{"c":18.5,"l":27,"t":"= 1H"},{"c":0,"l":28,"t":"Irr_Freq"},{"c":18.5,"l":28,"t":"= 399.78219838[MHz]"},{"c":0,"l":29,"t":"Irr_Offset"},{"c":18.5,"l":29,"t":"= 5[ppm]"},{"c":0,"l":30,"t":"Clipped"},{"c":18.5,"l":30,"t":"= FALSE"},{"c":0,"l":31,"t":"Scans"},{"c":18.5,"l":31,"t":"= 8000"},{"c":0,"l":32,"t":"Total_Scans"},{"c":18.5,"l":32,"t":"= 8000"},
{"c":0,"l":34,"t":"Relaxation_Delay"},{"c":18.5,"l":34,"t":"= 2[s]"},{"c":0,"l":35,"t":"Recvr_Gain"},{"c":18.5,"l":35,"t":"= 46"},{"c":0,"l":36,"t":"Temp_Get"},{"c":18.5,"l":36,"t":"= 0[dC]"},{"c":0,"l":37,"t":"X_90_Width"},{"c":18.5,"l":37,"t":"= 13.87[us]"},{"c":0,"l":38,"t":"X_Acq_Time"},{"c":18.5,"l":38,"t":"= 1.04333312[s]"},{"c":0,"l":39,"t":"X_Angle"},{"c":18.5,"l":39,"t":"= 30[deg]"},{"c":0,"l":40,"t":"X_Atn"},{"c":18.5,"l":40,"t":"= 5.2[dB]"},{"c":0,"l":41,"t":"X_Pulse"},{"c":18.5,"l":41,"t":"= 4.62333333[us]"},{"c":0,"l":42,"t":"Irr_Atn_Dec"},{"c":18.5,"l":42,"t":"= 29.907[dB]"},{"c":0,"l":43,"t":"Irr_Atn_Noe"},{"c":18.5,"l":43,"t":"= 29.907[dB]"},{"c":0,"l":44,"t":"Irr_Noise"},{"c":18.5,"l":44,"t":"= WALTZ"},{"c":0,"l":45,"t":"Decoupling"},{"c":18.5,"l":45,"t":"= TRUE"},{"c":0,"l":46,"t":"Initial_Wait"},{"c":18.5,"l":46,"t":"= 1[s]"},{"c":0,"l":47,"t":"Noe"},{"c":18.5,"l":47,"t":"= TRUE"}]
},
"resolve":{"scale":{"x":"independent","y":"independent"}},
"layer":[
{"data":{"name":"core"},"mark":{"type":"area","color":"#008000","clip":true},
"encoding":{"x":{"field":"p","type":"quantitative","title":null,"scale":{"domain":[243.6,-4.5],"nice":false,"zero":false},
"axis":{"values":[242,240,238,236,234,232,230,228,226,224,222,220,218,216,214,212,210,208,206,204,202,200,198,196,194,192,190,188,186,184,182,180,178,176,174,172,170,168,166,164,162,160,158,156,154,152,150,148,146,144,142,140,138,136,134,132,130,128,126,124,122,120,118,116,114,112,110,108,106,104,102,100,98,96,94,92,90,88,86,84,82,80,78,76,74,72,70,68,66,64,62,60,58,56,54,52,50,48,46,44,42,40,38,36,34,32,30,28,26,24,22,20,18,16,14,12,10,8,6,4,2,0,-2,-4],"labelExpr":"datum.value%10==0&&datum.value<235?(datum.value==0?'0':format(datum.value,'.1f')):''","labelOverlap":false,"labelFlush":false,"labelFont":"Liberation Serif","labelFontSize":13,"labelColor":"#444","labelPadding":3,"domainColor":"#222","domainWidth":1.5,"tickColor":"#333","tickWidth":1,"tickSize":{"condition":{"test":"datum.value%10==0","value":5},"value":3},"grid":false}},
"y":{"field":"t","type":"quantitative","title":null,"scale":{"domain":[-1.62,4.37],"nice":false,"zero":false},
"axis":{"values":[-1.6,-1.5,-1.4,-1.3,-1.2,-1.1,-1,-0.9,-0.8,-0.7,-0.6,-0.5,-0.4,-0.3,-0.2,-0.1,0,0.1,0.2,0.3,0.4,0.5,0.6,0.7,0.8,0.9,1,1.1,1.2,1.3,1.4,1.5,1.6,1.7,1.8,1.9,2,2.1,2.2,2.3,2.4,2.5,2.6,2.7,2.8,2.9,3,3.1,3.2,3.3,3.4,3.5,3.6,3.7,3.8,3.9,4,4.1,4.2,4.3],"labelExpr":"round(datum.value*10)%10==0?(datum.value==0?'0':format(datum.value,'.1f')):''","labelOverlap":false,"labelFlush":false,"labelAngle":270,"labelAlign":"center","labelBaseline":"bottom","labelFont":"Liberation Serif","labelFontSize":13,"labelColor":"#444","labelPadding":3,"domainColor":"#222","domainWidth":1.5,"tickColor":"#333","tickWidth":1,"tickSize":{"condition":{"test":"round(datum.value*10)%10==0","value":5},"value":3},"grid":false}},
"y2":{"field":"b"}}},
{"data":{"name":"env2"},"mark":{"type":"rule","color":"#008000","strokeWidth":1.7,"clip":true},
"encoding":{"x":{"field":"p","type":"quantitative","axis":null,"title":null,"scale":{"domain":[243.6,-4.5],"nice":false,"zero":false}},"y":{"field":"h","type":"quantitative","axis":null,"title":null,"scale":{"domain":[-1.62,4.37],"nice":false,"zero":false}},"y2":{"field":"l"}}},
{"data":{"name":"env"},"mark":{"type":"rule","color":"#008000","strokeWidth":1.7,"opacity":0.8,"clip":true},
"encoding":{"x":{"field":"p","type":"quantitative","axis":null,"title":null,"scale":{"domain":[243.6,-4.5],"nice":false,"zero":false}},"y":{"field":"h","type":"quantitative","axis":null,"title":null,"scale":{"domain":[-1.62,4.37],"nice":false,"zero":false}},"y2":{"field":"l"}}},
{"data":{"name":"peaks"},"mark":{"type":"rule","color":"#008000","strokeWidth":2,"opacity":0.65,"clip":true},
"encoding":{"x":{"field":"p","type":"quantitative","axis":null,"title":null,"scale":{"domain":[243.6,-4.5],"nice":false,"zero":false}},"y":{"field":"h","type":"quantitative","axis":null,"title":null,"scale":{"domain":[-1.62,4.37],"nice":false,"zero":false}},"y2":{"field":"b"}}},
{"data":{"name":"leaders"},"mark":{"type":"rule","color":"#333","strokeWidth":1.3},
"encoding":{"x":{"field":"p","type":"quantitative","axis":null,"title":null,"scale":{"domain":[243.6,-4.5],"nice":false,"zero":false}},"x2":{"field":"q"},"y":{"field":"a","type":"quantitative","axis":null,"title":null,"scale":{"domain":[-1.62,4.37],"nice":false,"zero":false}},"y2":{"field":"b"}}},
{"data":{"name":"labels"},"mark":{"type":"text","angle":270,"align":"right","baseline":"middle","font":"Liberation Serif","fontSize":10,"color":"#444"},
"encoding":{"x":{"field":"p","type":"quantitative","axis":null,"title":null,"scale":{"domain":[243.6,-4.5],"nice":false,"zero":false}},"y":{"datum":-2.14,"type":"quantitative","axis":null,"title":null,"scale":{"domain":[-1.62,4.37],"nice":false,"zero":false}},"text":{"field":"t"}}},
{"data":{"values":[{"p":242.6,"v":-2.553,"t":"X : parts per Million : 13C"}]},"mark":{"type":"text","align":"left","baseline":"middle","font":"Liberation Serif","fontSize":12.5,"color":"#333"},
"encoding":{"x":{"field":"p","type":"quantitative","axis":null,"title":null,"scale":{"domain":[243.6,-4.5],"nice":false,"zero":false}},"y":{"field":"v","type":"quantitative","axis":null,"title":null,"scale":{"domain":[-1.62,4.37],"nice":false,"zero":false}},"text":{"field":"t"}}},
{"data":{"values":[{"p":253.4,"v":-1.075,"t":"(thousandths)"}]},"mark":{"type":"text","angle":270,"align":"center","baseline":"middle","font":"Liberation Serif","fontSize":9.5,"color":"#333"},
"encoding":{"x":{"field":"p","type":"quantitative","axis":null,"title":null,"scale":{"domain":[243.6,-4.5],"nice":false,"zero":false}},"y":{"field":"v","type":"quantitative","axis":null,"title":null,"scale":{"domain":[-1.62,4.37],"nice":false,"zero":false}},"text":{"field":"t"}}},
{"data":{"name":"frame"},"mark":{"type":"rule","color":"#555","strokeWidth":2},
"encoding":{"x":{"field":"c","type":"quantitative","axis":null,"title":null,"scale":{"domain":[0,46],"range":[717,960.8],"nice":false,"zero":false}},"x2":{"field":"c2"},"y":{"field":"l","type":"quantitative","axis":null,"title":null,"scale":{"domain":[0,47],"range":[212,674],"nice":false,"zero":false}},"y2":{"field":"l2"}}},
{"data":{"name":"panel"},"mark":{"type":"text","align":"left","baseline":"middle","font":"Liberation Mono","fontWeight":"bold","fontSize":8.8,"color":"#4a4a4a"},
"encoding":{"x":{"field":"c","type":"quantitative","axis":null,"title":null,"scale":{"domain":[0,46],"range":[717,960.8],"nice":false,"zero":false}},"y":{"field":"l","type":"quantitative","axis":null,"title":null,"scale":{"domain":[0,47],"range":[212,674],"nice":false,"zero":false}},"text":{"field":"t"}}},
{"data":{"name":"logo"},"mark":{"type":"text","align":"center","baseline":"alphabetic","font":"Liberation Sans","fontWeight":"bold","fontSize":24,"color":"#1c4480","stroke":"#1c4480","strokeWidth":1.2},
"encoding":{"x":{"field":"c","type":"quantitative","axis":null,"title":null,"scale":{"domain":[0,46],"range":[717,960.8],"nice":false,"zero":false}},"y":{"field":"l","type":"quantitative","axis":null,"title":null,"scale":{"domain":[0,47],"range":[212,674],"nice":false,"zero":false}},"text":{"field":"t"}}},
{"data":{"name":"swirl"},"mark":{"type":"trail","color":"#1c4480"},
"encoding":{"order":{"field":"i","type":"quantitative"},"size":{"field":"w","type":"quantitative","legend":null,"scale":{"domain":[0,12],"range":[0,12]}},"x":{"field":"c","type":"quantitative","axis":null,"title":null,"scale":{"domain":[0,46],"range":[717,960.8],"nice":false,"zero":false}},"y":{"field":"l","type":"quantitative","axis":null,"title":null,"scale":{"domain":[0,47],"range":[212,674],"nice":false,"zero":false}}}}
]
}
